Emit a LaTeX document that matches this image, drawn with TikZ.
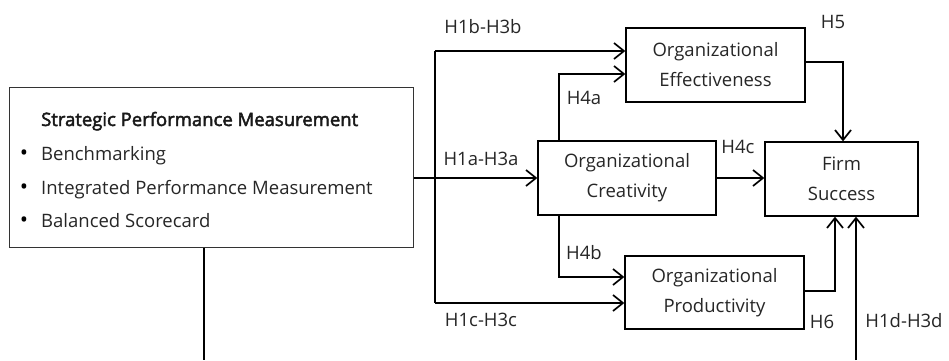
\documentclass[tikz,border=0pt]{standalone}
\usepackage{fontspec}
\setmainfont{Open Sans}
\newfontface\semibf{Open Sans}[FakeBold=2.5]
\usetikzlibrary{arrows.meta,calc}
\begin{document}
\begin{tikzpicture}[x=1pt,y=-1pt,
  box/.style={draw=black,line width=1.3pt,inner sep=0pt,align=center,font=\fontsize{18.5}{30}\selectfont,text=black!85},
  conn/.style={line width=1.8pt,-{Straight Barb[length=10pt,width=16pt,line width=1.7pt]}},
  plain/.style={line width=1.8pt},
  lbl/.style={font=\fontsize{18.5}{22}\selectfont,inner sep=0pt,text=black!85},
  itm/.style={font=\fontsize{18.5}{22}\selectfont,inner sep=0pt,anchor=base west,text=black!85}]
\useasboundingbox (0,0) rectangle (949,360);
% boxes
\node[draw=black!80,line width=1pt,minimum width=404pt,minimum height=160pt] (spm) at (211,167) {};
\node[itm,font=\semibf\fontsize{18.5}{22}\selectfont,text=black!90] (t0) at (41,126) {Strategic Performance Measurement};
\node[itm] (t1) at (41,160) {Benchmarking};
\node[itm] (t2) at (41,194) {Integrated Performance Measurement};
\node[itm] (t3) at (41,227) {Balanced Scorecard};
\node[itm,anchor=base,text=black] (b1) at (24,160) {\fontsize{22}{22}\selectfont•};
\node[itm,anchor=base,text=black] (b2) at (24,194) {\fontsize{22}{22}\selectfont•};
\node[itm,anchor=base,text=black] (b3) at (24,227) {\fontsize{22}{22}\selectfont•};
\node[box,minimum width=179pt,minimum height=74pt] (eff) at (715.5,65) {Organizational\\Effectiveness};
\node[box,minimum width=178pt,minimum height=74pt] (cre) at (627,178) {Organizational\\Creativity};
\node[box,minimum width=179pt,minimum height=73pt] (pro) at (714.5,292.5) {Organizational\\Productivity};
\node[box,minimum width=153pt,minimum height=74pt] (firm) at (841.5,179) {Firm\\Success};
% coordinates
\coordinate (tA) at (435,51);
\coordinate (tB) at (435,303);
\coordinate (a4) at (559,74);
\coordinate (b4) at (559,277);
\coordinate (h5) at (843,62);
\coordinate (h6) at (835,291);
\coordinate (d) at (856,360);
\coordinate (s) at (204,360);
% connectors
\draw[conn] (spm.east |- cre.west) -- (cre.west);
\draw[plain] (tA) -- (tB);
\draw[conn] (tA) -- (tA -| eff.west);
\draw[conn] (tB) -- (tB -| pro.west);
\draw[conn,line width=1.3pt] (cre.north west -| a4) -- (a4) -- (a4 -| eff.west);
\draw[conn,line width=1.5pt] (cre.south west -| b4) -- (b4) -- (b4 -| pro.west);
\draw[conn] (cre.east) -- (cre.east -| firm.west);
\draw[conn] (h5 -| eff.east) -- (h5) -- (h5 |- firm.north);
\draw[conn] (h6 -| pro.east) -- (h6) -- (h6 |- firm.south);
\draw[conn] (d) -- (d |- firm.south);
\draw[plain] (spm.south -| s) -- (s);
% labels
\node[lbl] (l1b) at (483,27) {H1b-H3b};
\node[lbl] (l4a) at (584,98) {H4a};
\node[lbl] (l1a) at (481,159) {H1a-H3a};
\node[lbl] (l4c) at (738,147) {H4c};
\node[lbl] (l5) at (833,22) {H5};
\node[lbl] (l4b) at (584,253) {H4b};
\node[lbl] (l1c) at (481,320) {H1c-H3c};
\node[lbl] (l6) at (822,322) {H6};
\node[lbl] (l1d) at (904,321) {H1d-H3d};
\end{tikzpicture}
\end{document}
